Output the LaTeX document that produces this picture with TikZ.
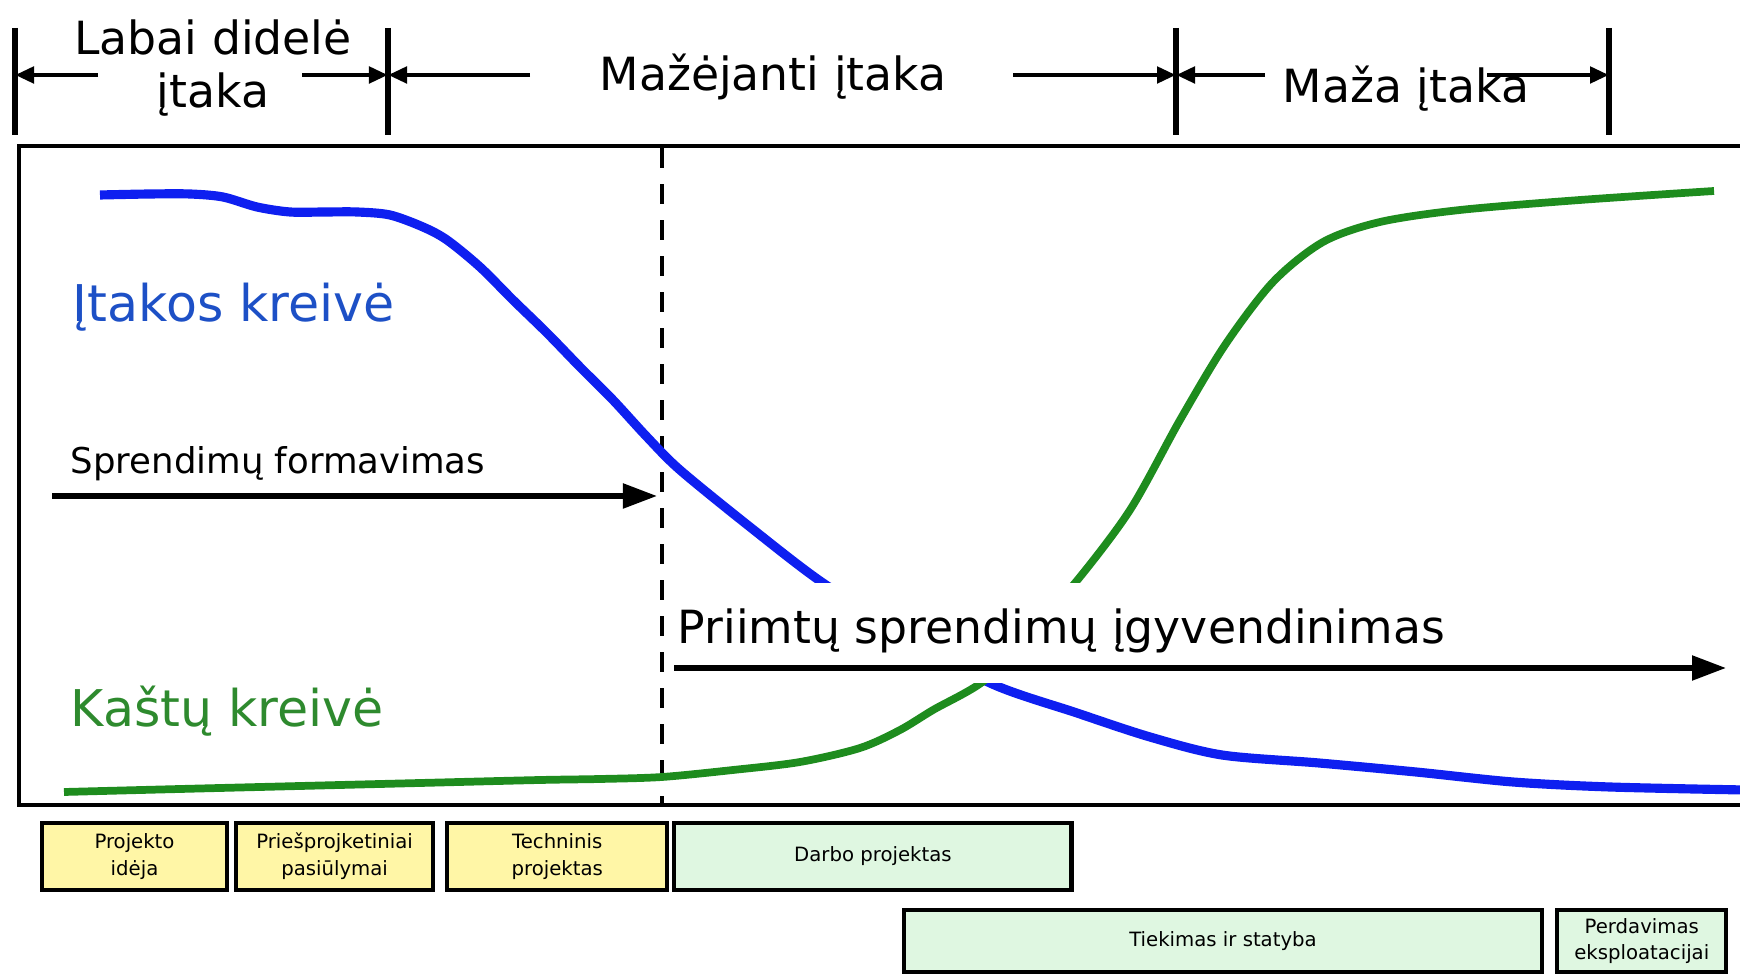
\documentclass[tikz,border=0pt]{standalone}
\usepackage{fontspec}
\setmainfont{DejaVu Sans}
\usepackage{xcolor}
\usepackage{tikz}
\usetikzlibrary{arrows.meta,positioning}
\definecolor{infc}{HTML}{0E1FF0}
\definecolor{inft}{HTML}{1D50C6}
\definecolor{costc}{HTML}{1E8C1E}
\definecolor{costt}{HTML}{2E8A2E}
\definecolor{yelbg}{HTML}{FFF6A6}
\definecolor{grnbg}{HTML}{DFF7E1}
\tikzset{
  ar/.style={-{Triangle[length=3.4mm,width=2.4mm]},line width=1.5pt},
  sar/.style={-{Triangle[length=1.9mm,width=1.6mm]},line width=1.4pt},
  tk/.style={line width=1.5pt},
  cv/.style={line width=2.5pt},
  ph/.style={draw,line width=1.2pt,inner sep=0pt,outer sep=0pt,align=center,font=\fontsize{5.6}{7.6}\selectfont},
  big/.style={font=\fontsize{13}{15.2}\selectfont,inner sep=0pt}
}

\begin{document}
\begin{tikzpicture}[x=0.01cm,y=-0.01cm]
\useasboundingbox (0,0) rectangle (1740,974);
% influence scale on top
\foreach \x [count=\i] in {15,388,1176,1609} {\draw[tk] (\x,28)--(\x,135); \coordinate (t\i) at (\x,75);}
\node[big,align=center] (vbig) at (213,68) {Labai didelė\\įtaka};
\node[big,anchor=base] (decr) at (773,91) {Mažėjanti įtaka};
\node[big,anchor=base] (low) at (1406,103) {Maža įtaka};
\coordinate (a1) at (98,75); \coordinate (a2) at (302,75); \coordinate (a3) at (530,75);
\coordinate (a4) at (1013,75); \coordinate (a5) at (1265,75); \coordinate (a6) at (1487,75);
\draw[sar] (a1)--(t1); \draw[sar] (a2)--(t2); \draw[sar] (a3)--(t2);
\draw[sar] (a4)--(t3); \draw[sar] (a5)--(t3); \draw[sar] (a6)--(t4);
% frame and split
\draw[line width=1.2pt] (1745,146)--(19,146)--(19,805)--(1745,805);
\draw[line width=1.1pt,dash pattern=on 2mm off 1.6mm] (662,148)--(662,805);
% curves
\draw[cv,line width=2.6pt,infc] plot[smooth,tension=0.5] coordinates {(100,195) (150,194) (190,194) (223,197) (257,207) (290,212) (325,212) (357,212) (390,215) (423,227) (447,240) (480,267) (513,300) (547,333) (580,367) (613,400) (647,437) (680,470) (750,527) (823,583) (905,633) (990,683) (1077,713) (1150,737) (1222,755) (1319,763) (1416,772) (1513,782) (1610,787) (1745,790)};
\draw[cv,line width=2.2pt,costc] plot[smooth,tension=0.5] coordinates {(64,792) (180,789) (300,786) (420,783) (540,780) (600,779) (662,777) (733,770) (800,762) (860,748) (900,730) (933,710) (985,680) (1030,631) (1075,583) (1130,510) (1180,420) (1225,345) (1273,282) (1323,242) (1380,222) (1460,210) (1580,200) (1714,191)};
\node[font=\fontsize{14.4}{17}\selectfont,inft,anchor=base west,inner sep=0pt] (infl) at (72,322) {Įtakos kreivė};
\node[font=\fontsize{14.4}{17}\selectfont,costt,anchor=base west,inner sep=0pt] (costl) at (70,727) {Kaštų kreivė};
\node[font=\fontsize{10.1}{12}\selectfont,anchor=base west,inner sep=0pt] (form) at (70,474) {Sprendimų formavimas};
\coordinate (f0) at (52,496); \coordinate (f1) at (657,496);
\draw[ar] (f0)--(f1);
\node[big,anchor=base west,fill=white,inner xsep=0.07cm,inner ysep=0pt,text height=0.61cm,text depth=0.39cm] (impl) at (670,644) {Priimtų sprendimų įgyvendinimas};
\coordinate (i0) at (674,668); \coordinate (i1) at (1726,668);
\draw[ar] (i0)--(i1);
% project stages
\node[ph,fill=yelbg,minimum width=1.85cm,minimum height=0.67cm] (p1) at (134.5,856.5) {Projekto\\idėja};
\node[ph,fill=yelbg,minimum width=1.97cm,minimum height=0.67cm,right=0.09cm of p1] (p2) {Priešprojketiniai\\pasiūlymai};
\node[ph,fill=yelbg,minimum width=2.20cm,minimum height=0.67cm,right=0.14cm of p2] (p3) {Techninis\\projektas};
\node[ph,fill=grnbg,minimum width=3.97cm,minimum height=0.67cm,right=0.07cm of p3] (p4) {Darbo projektas};
\node[ph,fill=grnbg,minimum width=6.38cm,minimum height=0.62cm] (p5) at (1223,941) {Tiekimas ir statyba};
\node[ph,fill=grnbg,minimum width=1.69cm,minimum height=0.62cm,right=0.15cm of p5] (p6) {Perdavimas\\eksploatacijai};
\end{tikzpicture}
\end{document}
